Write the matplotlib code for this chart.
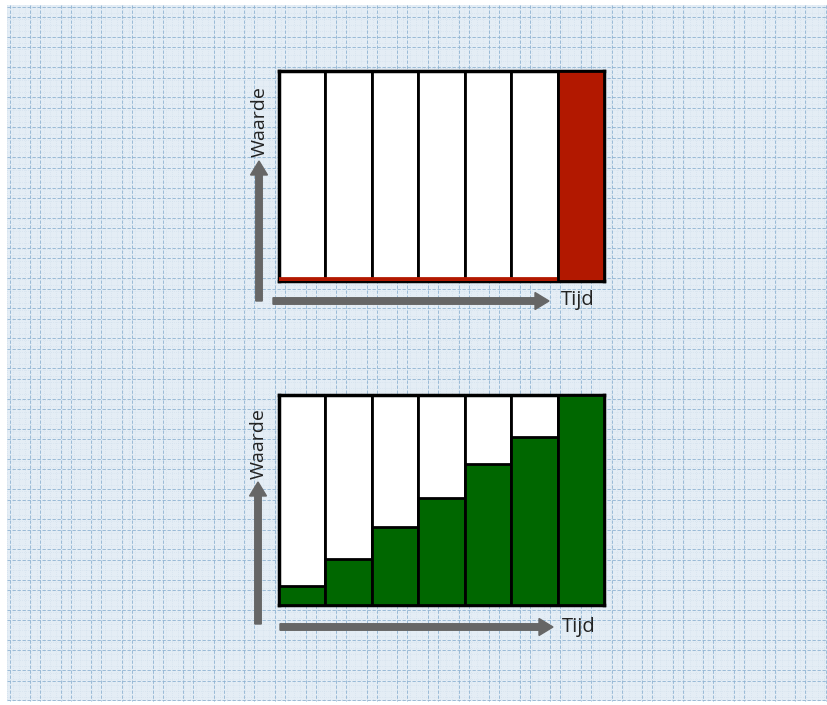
import numpy as np
import matplotlib.pyplot as plt

# Data: 7 time periods, fraction of the full bar that is filled
periods = np.arange(7)
capacity = [1, 1, 1, 1, 1, 1, 1]
top_values = [0.012, 0.012, 0.012, 0.012, 0.012, 0.012, 1.0]
bottom_values = [0.09, 0.22, 0.37, 0.51, 0.67, 0.80, 1.0]
x_label = 'Tijd'
y_label = 'Waarde'

RED = '#b21800'
GREEN = '#006700'
ARROW = '#666666'

W, H = 828, 705
fig = plt.figure(figsize=(W / 100, H / 100), dpi=100)
fig.patch.set_facecolor('white')

# full-figure axes in pixel coordinates for the graph paper, arrows and text
bg = fig.add_axes([0, 0, 1, 1])
bg.set_xlim(0, W)
bg.set_ylim(H, 0)
bg.axis('off')
bg.add_patch(plt.Rectangle((7, 5), W - 7, 696, facecolor='#e4edf5', edgecolor='none', zorder=0))

# faint minor lines
for x in np.arange(7, W, 6.1):
    bg.plot([x, x], [5, 701], color='#cfdeeb', lw=0.5, ls=(0, (1, 2)), zorder=0.5)
for y in np.arange(7, 701, 6.05):
    bg.plot([7, W], [y, y], color='#cfdeeb', lw=0.5, ls=(0, (1, 2)), zorder=0.5)

# paired major lines
for x0 in np.arange(122 - 30.6 * 4, W, 30.6):
    for x in (x0, x0 + 10):
        if 7 < x < W:
            bg.plot([x, x], [5, 701], color='#8fb3d2', lw=0.6, ls=(0, (4, 2)), zorder=0.6)
for y0 in np.arange(67 - 30.15 * 2, 701, 30.15):
    for y in (y0, y0 + 10.5):
        if 5 < y < 701:
            bg.plot([7, W], [y, y], color='#8fb3d2', lw=0.6, ls=(0, (4, 2)), zorder=0.6)


def add_arrows(y_axis_x, y_from, y_to, x_from, x_to, x_axis_y, tx, ty, wy):
    bg.arrow(y_axis_x, y_from, 0, y_to - y_from, width=6.5, head_width=17,
             head_length=14, length_includes_head=True, color=ARROW, zorder=2)
    bg.arrow(x_from, x_axis_y, x_to - x_from, 0, width=6.5, head_width=17,
             head_length=14, length_includes_head=True, color=ARROW, zorder=2)
    bg.text(tx, ty, x_label, fontsize=14.5, family='Open Sans', color='#222222',
            ha='left', va='center', zorder=3)
    bg.text(y_axis_x + 1, wy, y_label, fontsize=14, family='Open Sans', color='#222222',
            rotation=90, ha='center', va='center', zorder=3)


add_arrows(259, 301, 161, 273, 549, 301, 561, 300, 122)
add_arrows(258, 624, 482, 280, 553, 627, 562, 627, 444)


def bar_chart(rect, values, color):
    ax = fig.add_axes(rect)
    ax.set_xlim(-0.5, 6.5)
    ax.set_ylim(0, 1)
    ax.bar(periods, capacity, width=1, color='white', edgecolor='black', lw=2, zorder=2)
    edges = ['black' if v > 0.05 else color for v in values]
    ax.bar(periods, values, width=1, color=color, edgecolor=edges, lw=2, zorder=3)
    for s in ax.spines.values():
        s.set_linewidth(2.5)
        s.set_zorder(2.5)
    ax.set_xticks([])
    ax.set_yticks([])
    return ax


bar_chart([279 / W, 1 - 281 / H, 325 / W, 210 / H], top_values, RED)
bar_chart([279 / W, 1 - 605 / H, 325 / W, 210 / H], bottom_values, GREEN)

fig.savefig('out.png', dpi=100)
